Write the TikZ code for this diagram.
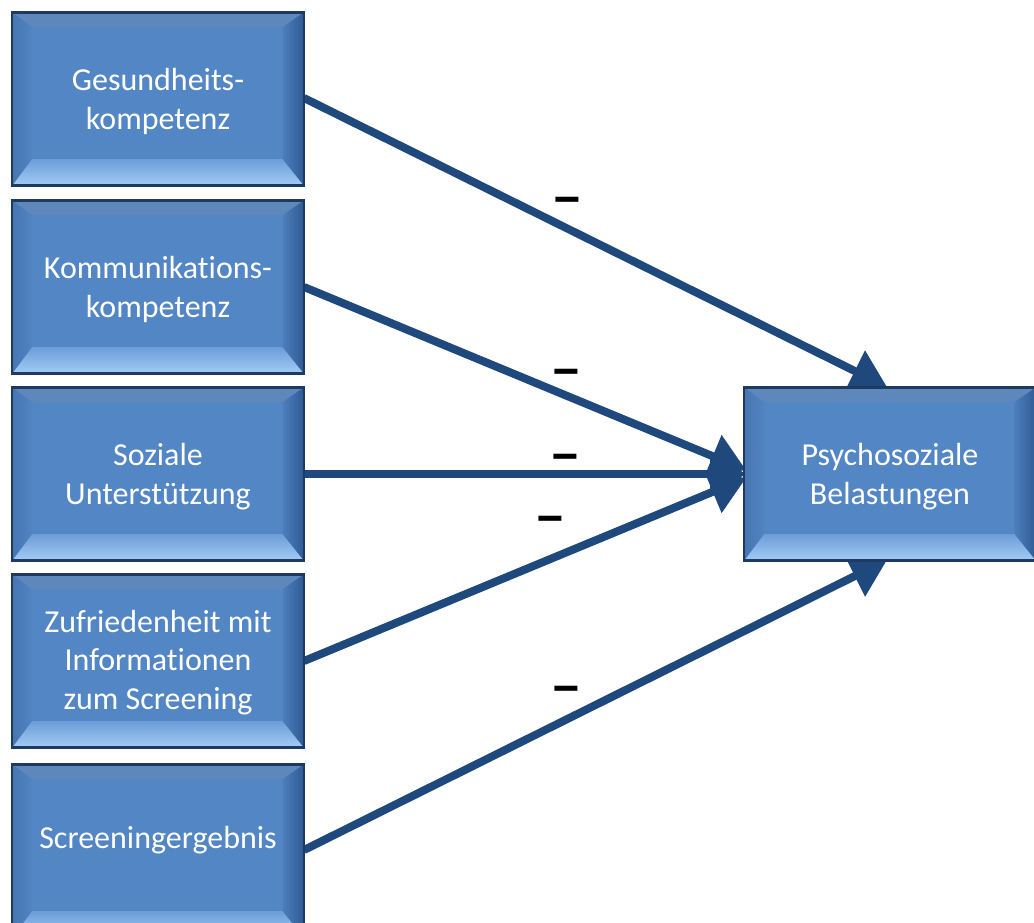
\documentclass[tikz,border=0pt]{standalone}
\usepackage{fontspec}
\setmainfont{Carlito}[RawFeature={-liga}]
\newfontfamily\minusfont{Liberation Sans}
\usetikzlibrary{arrows.meta,calc}
\definecolor{boxedge}{HTML}{1F3A60}
\definecolor{boxmid}{HTML}{5386C4}
\definecolor{boxtop}{HTML}{5E88BC}
\definecolor{boxbotA}{HTML}{6C9DD8}
\definecolor{boxbotB}{HTML}{A3CCF6}
\definecolor{boxleftA}{HTML}{4676B1}
\definecolor{boxleftB}{HTML}{5284C2}
\definecolor{boxrightA}{HTML}{4D7EBB}
\definecolor{boxrightB}{HTML}{2E5A93}
\definecolor{arrowblue}{HTML}{1F497D}
\tikzset{
  bevelbox/.style={draw=boxedge, line width=2pt, fill=boxmid,
    minimum width=219pt, minimum height=130pt, inner sep=0pt,
    align=center, text=white, font=\fontsize{24}{29}\selectfont,
    path picture={
      \path (path picture bounding box.south west) coordinate (ppsw)
            (path picture bounding box.north east) coordinate (ppne);
      \path (ppsw |- ppne) coordinate (ppnw) (ppne |- ppsw) coordinate (ppse);
      \path ([shift={(15pt,-11pt)}]ppnw) coordinate (inw)
            ([shift={(-16pt,-11pt)}]ppne) coordinate (ine)
            ([shift={(15pt,20pt)}]ppsw) coordinate (isw)
            ([shift={(-16pt,20pt)}]ppse) coordinate (ise);
      \fill[boxtop] (ppnw) -- (ppne) -- (ine) -- (inw) -- cycle;
      \shade[top color=boxbotA, bottom color=boxbotB] (ppsw) -- (ppse) -- (ise) -- (isw) -- cycle;
      \shade[left color=boxleftA, right color=boxleftB] (ppnw) -- (inw) -- (isw) -- (ppsw) -- cycle;
      \shade[left color=boxrightA, right color=boxrightB] (ppne) -- (ine) -- (ise) -- (ppse) -- cycle;
    }},
  link/.style={draw=arrowblue, line width=6pt,
    -{Triangle[length=27pt, width=33pt]}},
  minus/.style={font=\minusfont\bfseries\fontsize{24}{24}\selectfont, text=black, inner sep=0pt}
}
\newcommand{\negsign}{\scalebox{1.45}[1.6]{–}}
\newcommand{\shifted}[2]{\raisebox{#1}[\height][\depth]{\begin{tabular}{@{}c@{}}#2\end{tabular}}}
\begin{document}
\begin{tikzpicture}[x=0.75pt, y=-0.75pt]
\useasboundingbox (0,0) rectangle (1034,922);
% arrows first (boxes drawn over them)
\coordinate (s1) at (304,98);
\coordinate (s2) at (304,287);
\coordinate (s3) at (304,474);
\coordinate (s4) at (304,661);
\coordinate (s5) at (304,850);
\coordinate (t1) at (887,387);
\coordinate (t2) at (746,470);
\coordinate (t3) at (746,474);
\coordinate (t4) at (746,478);
\coordinate (t5) at (887,560);
\draw[link] (s1) -- (t1);
\draw[link] (s2) -- (t2);
\draw[link] (s3) -- (t3);
\draw[link] (s4) -- (t4);
\draw[link] (s5) -- (t5);
% boxes
\node[bevelbox] (b1) at (158,99) {\shifted{-2.2pt}{Gesundheits-\\kompetenz}};
\node[bevelbox] (b2) at (158,287) {\shifted{-2.2pt}{Kommunikations-\\kompetenz}};
\node[bevelbox] (b3) at (158,474) {\shifted{-2.2pt}{Soziale\\Unterstützung}};
\node[bevelbox] (b4) at (158,661) {\shifted{-1.5pt}{Zufriedenheit mit\\Informationen\\zum Screening}};
\node[bevelbox] (b5) at (158,851) {\shifted{7.5pt}{Screeningergebnis}};
\node[bevelbox] (r) at (890,474) {\shifted{-2.2pt}{Psychosoziale\\Belastungen}};
% minus labels
\node[minus] (m1) at (567,205) {\negsign};
\node[minus] (m2) at (566,377) {\negsign};
\node[minus] (m3) at (565,462) {\negsign};
\node[minus] (m4) at (550,524) {\negsign};
\node[minus] (m5) at (566,694) {\negsign};
\end{tikzpicture}
\end{document}
